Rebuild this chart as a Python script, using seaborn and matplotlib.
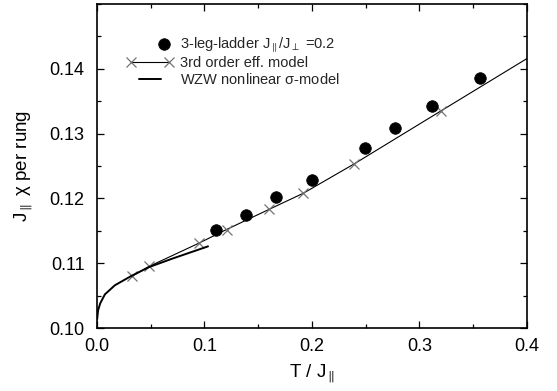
import numpy as np
import pandas as pd
import seaborn as sns
import matplotlib
matplotlib.use("Agg")
import matplotlib.pyplot as plt
from matplotlib.ticker import MultipleLocator, FormatStrFormatter
from matplotlib.legend_handler import HandlerLine2D, HandlerPathCollection

# data
ladder_T = [0.1107, 0.1386, 0.1665, 0.2000, 0.2493, 0.2772, 0.3116, 0.3563]
ladder_chi = [0.1152, 0.1174, 0.1202, 0.1229, 0.1278, 0.1309, 0.1342, 0.1386]

eff_T = [0.0326, 0.0484, 0.0949, 0.1205, 0.1600, 0.1920, 0.2390, 0.3200, 0.4200]
eff_chi = [0.1080, 0.1095, 0.1131, 0.1152, 0.1183, 0.1208, 0.1253, 0.1335, 0.1436]

wzw_T = [0.0002, 0.0010, 0.0030, 0.0074, 0.0167, 0.0316, 0.0484, 0.0700, 0.1033]
wzw_chi = [0.1014, 0.1027, 0.1038, 0.1052, 0.1066, 0.1080, 0.1094, 0.1107, 0.1126]


# legend marker for the dots sits near the right end of the handle box
class RightDot(HandlerPathCollection):
    def get_xdata(self, legend, xdescent, ydescent, width, height, fontsize):
        x = [-xdescent + 0.8 * width]
        return x, x


sns.set_style("ticks")
plt.rcParams["font.family"] = ["Liberation Sans", "DejaVu Sans"]
plt.rcParams["mathtext.fontset"] = "custom"
plt.rcParams["mathtext.rm"] = "Liberation Sans"
plt.rcParams["mathtext.it"] = "Liberation Sans"

fig = plt.figure(figsize=(5.57, 3.91), dpi=100)
ax = fig.add_axes([0.1741, 0.1611, 0.772, 0.8287])

sns.scatterplot(x=ladder_T, y=ladder_chi, ax=ax, color="black", s=70,
                edgecolor="black", linewidth=0.5, zorder=3,
                label=r"3-leg-ladder J$_{\parallel}$/J$_{\perp}$ =0.2")
sns.lineplot(x=eff_T, y=eff_chi, ax=ax, color="black", linewidth=0.8,
             marker="x", markersize=7, markeredgecolor="0.45",
             markeredgewidth=0.9, label="3rd order eff. model")
sns.lineplot(x=wzw_T, y=wzw_chi, ax=ax, color="black", linewidth=1.4,
             label=r"WZW nonlinear $\sigma$-model")

ax.set_xlim(0, 0.4)
ax.set_ylim(0.10, 0.15)
ax.xaxis.set_major_locator(MultipleLocator(0.1))
ax.xaxis.set_minor_locator(MultipleLocator(0.05))
ax.yaxis.set_major_locator(MultipleLocator(0.01))
ax.yaxis.set_minor_locator(MultipleLocator(0.005))
ax.xaxis.set_major_formatter(FormatStrFormatter("%.1f"))
ax.yaxis.set_major_formatter(FormatStrFormatter("%.2f"))
ax.set_yticks([0.10, 0.11, 0.12, 0.13, 0.14])
ax.tick_params(axis="both", which="both", direction="in", top=True, right=True,
               width=0.9, colors="black", labelcolor="black", labelsize=13)
ax.tick_params(which="major", length=5)
ax.tick_params(which="minor", length=3)
ax.tick_params(axis="y", which="major", pad=9)
ax.tick_params(axis="x", which="major", pad=7)
for spine in ax.spines.values():
    spine.set_visible(True)
    spine.set_color("black")
    spine.set_linewidth(1.2)

ax.set_xlabel(r"T / J$_{\parallel}$", fontsize=13.5, labelpad=6, color="black")
ax.set_ylabel(r"J$_{\parallel}$ $\chi$ per rung", fontsize=13.5, labelpad=10,
              color="black")

handles, labels = ax.get_legend_handles_labels()
hmap = {handles[0]: RightDot(), handles[2]: HandlerLine2D(marker_pad=0.85)}
ax.legend(handles, labels, handler_map=hmap,
          loc="upper left", bbox_to_anchor=(0.0698, 0.905), frameon=False,
          fontsize=10.5, handlelength=3.15, handletextpad=0.48,
          labelspacing=0.15, borderpad=0, borderaxespad=0,
          numpoints=2, scatterpoints=1)

fig.savefig("out.png", dpi=100)
